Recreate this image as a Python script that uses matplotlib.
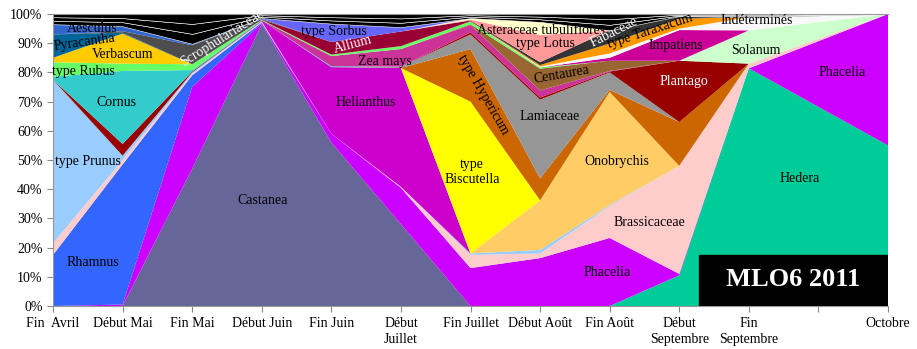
import matplotlib
matplotlib.use("Agg")
import matplotlib.pyplot as plt
import numpy as np

plt.rcParams['font.family'] = ['Liberation Serif', 'DejaVu Serif']

# periodes (la 12e graduation est vide)
periodes = ["Fin  Avril", "Début Mai", "Fin Mai", "Début Juin", "Fin Juin", "Début\nJuillet",
            "Fin Juillet", "Début Août", "Fin Août", "Début\nSeptembre", "Fin\nSeptembre", "", "Octobre"]
x_donnees = [0, 1, 2, 3, 4, 5, 6, 7, 8, 9, 10, 12]

# pourcentages, du bas vers le haut de la pile
hedera       = [0, 0, 0, 0, 0, 0, 0, 0, 0, 10.5, 81.4, 55]
castanea     = [0, 0, 47, 96.5, 56, 28, 0, 0, 0, 0, 0, 0]
phacelia     = [0, 0.5, 28, 0.3, 3, 12.5, 13, 16.4, 23.3, 0.5, 0, 45]
rhamnus      = [17.5, 48, 4, 0.3, 0, 0, 0, 0, 0, 0, 0, 0]
brassicaceae = [4, 1.5, 0.5, 0.2, 0, 0.3, 4.5, 1.6, 11, 37, 1.6, 0]
prunus       = [56, 1.5, 0.5, 0.2, 0, 0, 0.5, 1.2, 0.3, 0, 0, 0]
onobrychis   = [0, 0, 0, 0, 0, 0, 0, 17, 38.7, 0, 0, 0]
helianthus   = [0, 0, 0, 0.3, 22.8, 40.7, 0, 0, 0, 0, 0, 0]
biscutella   = [0, 0, 0, 0, 0, 0, 52, 0, 0, 0, 0, 0]
hypericum    = [0, 0, 0, 0, 0, 0, 18, 7.5, 0.7, 15, 0, 0]
lamiaceae    = [0, 0, 0, 0, 0, 0.5, 5, 27, 6, 0, 0, 0]
plantago     = [0, 4, 0.3, 0, 0, 0, 0.7, 0.7, 0.3, 21, 0, 0]
cornus       = [1, 25, 0.5, 0, 0.3, 0, 0, 0, 0, 0, 0, 0]
zea_mays     = [0, 0, 0, 0, 3.5, 6, 2.5, 2.4, 0.2, 0, 0, 0]
centaurea    = [0, 0, 0, 0, 0, 0, 0.3, 7.5, 3.5, 0, 0, 0]
rubus        = [5, 2.5, 2, 0.2, 0.5, 1, 1, 0.4, 0, 0, 0, 0]
solanum      = [0, 0, 0, 0, 0, 0, 0, 0, 0, 0, 11.4, 0]
impatiens    = [0, 0, 0, 0, 0, 0, 0, 0, 1, 10.5, 0, 0]
indetermines = [0, 0, 0, 0, 0, 0, 0, 0.3, 1.5, 0.5, 4.5, 0]
taraxacum    = [0, 0, 0, 0, 0, 0, 0, 0.5, 3.4, 3.4, 0, 0]
verbascum    = [1.5, 10.3, 0, 0, 0, 0, 0, 0, 0, 0, 0, 0]
allium       = [0, 0, 0, 0, 4.3, 5, 0.3, 0, 0, 0, 0, 0]
fabaceae     = [0, 0, 0, 0, 0, 0, 0, 1, 4.5, 0.9, 0, 0]
lotus        = [0, 0, 0, 0, 0, 0, 0.3, 9.3, 0, 0, 0, 0]
asteraceae   = [0, 0, 0, 0, 0, 0, 0.5, 4.5, 0, 0, 0, 0]
pyracantha   = [8, 0.3, 0, 0, 0, 0, 0, 0, 0, 0, 0, 0]
scroph       = [0, 0.5, 6.5, 0.3, 0, 0, 0, 0, 0, 0, 0, 0]
aesculus     = [3.5, 1.7, 0.5, 0.1, 0, 0, 0, 0, 0, 0, 0, 0]
sorbus       = [0, 0, 0, 0.2, 6.3, 1.5, 0, 0, 0, 0, 0, 0]
autres_a     = [1.2, 1.4, 3.4, 0.5, 1.1, 1.5, 0.5, 0.9, 1.9, 0.2, 0.4, 0]
autres_b     = [1.2, 1.4, 3.4, 0.5, 1.1, 1.5, 0.5, 0.9, 1.9, 0.3, 0.4, 0]
autres_c     = [1.1, 1.4, 3.4, 0.4, 1.1, 1.5, 0.4, 0.9, 1.8, 0.2, 0.3, 0]

series = [hedera, castanea, phacelia, rhamnus, brassicaceae, prunus, onobrychis, helianthus,
          biscutella, hypericum, lamiaceae, plantago, cornus, zea_mays, centaurea, rubus,
          solanum, impatiens, indetermines, taraxacum, verbascum, allium, fabaceae, lotus,
          asteraceae, pyracantha, scroph, aesculus, sorbus, autres_a, autres_b, autres_c]
couleurs = ["#00CC99", "#666699", "#CC00FF", "#3366FF", "#FFCCCC", "#99CCFF", "#FFCC66", "#CC00CC",
            "#FFFF00", "#CC6600", "#969696", "#990000", "#33CCCC", "#CC3399", "#996633", "#66FF66",
            "#CCFFCC", "#CC0099", "#F8F8F8", "#FF9900", "#FFCC00", "#990033", "#333333", "#FF9999",
            "#FFFFCC", "#006699", "#4D4D4D", "#3366CC", "#6666FF", "#000000", "#000000", "#000000"]

# graphique 100% empile
vals = np.array(series, dtype=float)
vals = vals / vals.sum(axis=0) * 100

fig = plt.figure(figsize=(9.17, 3.49), dpi=100)
ax = fig.add_axes([53/917, 1-306/349, (888-53)/917, (306-14)/349])
polys = ax.stackplot(x_donnees, vals, colors=couleurs, linewidth=0)
for p in polys[-3:]:
    p.set_edgecolor("white")
    p.set_linewidth(0.4)

ax.set_xlim(0, 12)
ax.set_ylim(0, 100)
ax.set_yticks(np.arange(0, 101, 10))
ax.set_yticklabels([f"{v}%" for v in range(0, 101, 10)], fontsize=10)
ax.set_xticks(range(13))
ax.set_xticklabels(periodes, fontsize=10, linespacing=1.25)
ax.tick_params(axis="both", direction="out", color="#888888", length=4)
ax.tick_params(axis="x", pad=4)
for s in ["left", "bottom", "top"]:
    ax.spines[s].set_color("#999999")
ax.spines["right"].set_visible(False)

# etiquettes des taxons (coordonnees en pixels de l'image)
def px(xp, yp):
    return (xp - 53) / 69.6, (306 - yp) / 2.92

etiquettes = [
    ("Aesculus", 92, 29, 0, "black"), ("Pyracantha", 84, 42, 8, "black"),
    ("Verbascum", 123, 54, 0, "black"), ("type Rubus", 83, 71, 0, "black"),
    ("Cornus", 116, 102, 0, "black"), ("type Prunus", 88, 161, 0, "black"),
    ("Rhamnus", 93, 263, 0, "black"), ("Scrophulariaceae", 222, 38, 32, "white"),
    ("Castanea", 263, 201, 0, "black"), ("type Sorbus", 334, 31, 0, "black"),
    ("Allium", 353, 45, 15, "white"), ("Zea mays", 385, 62, 0, "black"),
    ("Helianthus", 366, 102, 0, "black"), ("type Hypericum", 483, 95, -60, "black"),
    ("type\nBiscutella", 472, 172, 0, "black"), ("Lamiaceae", 550, 116, 0, "black"),
    ("Asteraceae tubuliflores", 541, 30, 0, "black"), ("type Lotus", 546, 43, 0, "black"),
    ("Fabaceae", 614, 32, 27, "white"), ("type Taraxacum", 650, 31, 18, "black"),
    ("Centaurea", 562, 75, 10, "black"), ("Impatiens", 676, 45, 0, "black"),
    ("Indéterminés", 757, 21, 0, "black"), ("Solanum", 756, 50, 0, "black"),
    ("Plantago", 684, 82, 0, "white"), ("Phacelia", 842, 72, 0, "black"),
    ("Onobrychis", 617, 162, 0, "black"), ("Brassicaceae", 650, 223, 0, "black"),
    ("Phacelia", 607, 272, 0, "black"), ("Hedera", 800, 178, 0, "black"),
]
for txt, xp, yp, rot, c in etiquettes:
    xd, yd = px(xp, yp)
    ax.text(xd, yd, txt, ha="center", va="center", rotation=rot, color=c,
            fontsize=10, linespacing=1.2, rotation_mode="anchor")

# cartouche MLO6 2011
x0, y0 = px(699, 306)
x1, y1 = px(888, 255)
ax.add_patch(plt.Rectangle((x0, y0), x1 - x0, y1 - y0, color="black", zorder=5))
xc, yc = px(793, 280)
ax.text(xc, yc, "MLO6 2011", ha="center", va="center", color="white",
        fontsize=19, fontweight="bold", zorder=6)

fig.savefig("out.png", dpi=100)
